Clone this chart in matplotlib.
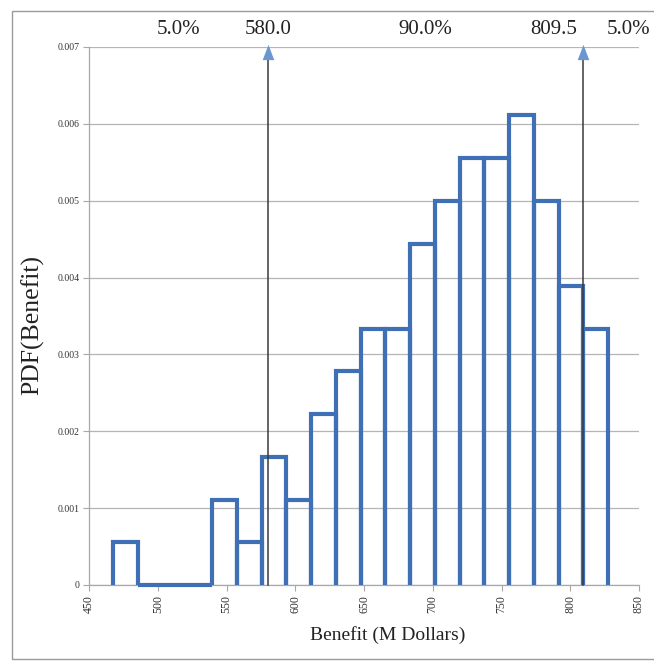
import matplotlib
matplotlib.use("Agg")
import matplotlib.pyplot as plt
import matplotlib.transforms as mtransforms
from matplotlib.patches import Rectangle
import numpy as np

# ---- data ----
bin_start = 467.5
bin_width = 18.0
pdf_values = [0.000556, 0.0, 0.0, 0.0, 0.00111, 0.000556, 0.00167, 0.00111,
              0.00222, 0.00278, 0.00333, 0.00333, 0.00444, 0.00500, 0.00556,
              0.00556, 0.00611, 0.00500, 0.00389, 0.00333]
left_cut = 580.0
right_cut = 809.5
pct_labels = ["5.0%", "90.0%", "5.0%"]
x_ticks = [450, 500, 550, 600, 650, 700, 750, 800, 850]
y_ticks = [0, 0.001, 0.002, 0.003, 0.004, 0.005, 0.006, 0.007]
y_tick_labels = ["0", "0.001", "0.002", "0.003", "0.004", "0.005", "0.006", "0.007"]

serif = ["Liberation Serif", "DejaVu Serif"]
bar_color = "#3f6fb4"
arrow_color = "#6b96d0"

fig = plt.figure(figsize=(6.54, 6.61), dpi=100)
W, H = 654, 661
ax = fig.add_axes([89 / W, 1 - 585 / H, (639 - 89) / W, (585 - 47) / H])

# outer frame
fig.patches.append(Rectangle((12 / W, 1 - 659 / H), (660 - 12) / W, (659 - 11) / H,
                             transform=fig.transFigure, fill=False,
                             edgecolor="#9a9a9a", linewidth=1.0))

# grid
ax.set_xlim(450, 850)
ax.set_ylim(0, 0.007)
ax.set_yticks(y_ticks)
ax.set_yticklabels(y_tick_labels, fontfamily=serif, fontsize=7, color="#333333")
ax.set_xticks(x_ticks)
ax.set_xticklabels([str(t) for t in x_ticks], rotation=90, fontfamily=serif,
                   fontsize=8.5, color="#333333")
ax.yaxis.grid(True, color="#b5b5b5", linewidth=0.9)
ax.set_axisbelow(True)
for s in ["top", "right"]:
    ax.spines[s].set_visible(False)
for s in ["left", "bottom"]:
    ax.spines[s].set_color("#a8a8a8")
    ax.spines[s].set_linewidth(0.9)
ax.tick_params(axis="both", length=4, width=0.8, color="#a8a8a8", pad=3)

# histogram outline (open bars)
edges = bin_start + bin_width * np.arange(len(pdf_values) + 1)
for i, h in enumerate(pdf_values):
    l, r = edges[i], edges[i + 1]
    ax.plot([l, l, r, r], [0, h, h, 0], color=bar_color, linewidth=3.0,
            solid_joinstyle="miter", solid_capstyle="butt", clip_on=False, zorder=3)

# cut-off lines with arrows
trans = mtransforms.blended_transform_factory(ax.transData, ax.transAxes)
arrow_marker = [(-0.38, -0.5), (0.38, -0.5), (0.0, 0.5), (-0.38, -0.5)]
for xc in [left_cut, right_cut]:
    ax.plot([xc, xc], [0, 0.985], transform=trans, color="#3a3a3a",
            linewidth=1.1, zorder=4, clip_on=False)
    ax.plot([xc], [0.99], transform=trans, marker=arrow_marker, markersize=11,
            color=arrow_color, markeredgewidth=0, zorder=5, clip_on=False)

# top labels
ty = 1 + (47 - 30) / (585 - 47)
fs_top = 15
ax.text((450 + left_cut) / 2, ty, pct_labels[0], transform=trans, ha="center",
        va="center", fontfamily=serif, fontsize=fs_top, color="#222222")
ax.text(left_cut, ty, f"{left_cut:.1f}", transform=trans, ha="center",
        va="center", fontfamily=serif, fontsize=fs_top, color="#222222")
ax.text((left_cut + right_cut) / 2, ty, pct_labels[1], transform=trans, ha="center",
        va="center", fontfamily=serif, fontsize=fs_top, color="#222222")
ax.text(right_cut - 21.5, ty, f"{right_cut:.1f}", transform=trans, ha="center",
        va="center", fontfamily=serif, fontsize=fs_top, color="#222222")
ax.text(right_cut + 32.5, ty, pct_labels[2], transform=trans, ha="center",
        va="center", fontfamily=serif, fontsize=fs_top, color="#222222")

# axis labels
fig.text(388 / W, 1 - 635 / H, "Benefit (M Dollars)", ha="center", va="center",
         fontfamily=serif, fontsize=14, color="#222222")
fig.text(33 / W, 1 - 325 / H, "PDF(Benefit)", ha="center", va="center",
         rotation=90, fontfamily=serif, fontsize=18.5, color="#222222")

fig.savefig("out.png", dpi=100, facecolor="white")
